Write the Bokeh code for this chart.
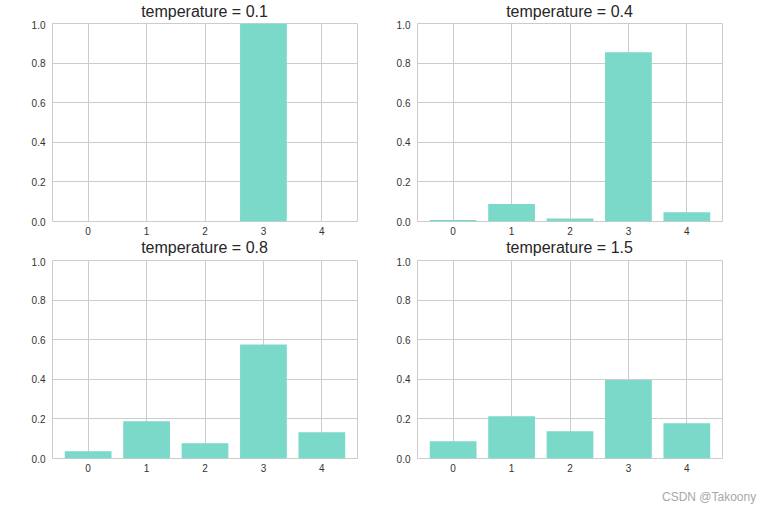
from bokeh.plotting import figure
from bokeh.layouts import column, row
from bokeh.models import Div, Spacer, FixedTicker, CustomJSTickFormatter
from bokeh.embed import file_html
from bokeh.resources import INLINE

categories = [0, 1, 2, 3, 4]
temperatures = ["0.1", "0.4", "0.8", "1.5"]
probs_t01 = [0.0, 0.0, 0.0, 1.0, 0.0]
probs_t04 = [0.007, 0.088, 0.015, 0.855, 0.047]
probs_t08 = [0.037, 0.188, 0.077, 0.576, 0.133]
probs_t15 = [0.087, 0.213, 0.138, 0.397, 0.178]
y_ticks = [0.0, 0.2, 0.4, 0.6, 0.8, 1.0]
watermark = "CSDN @Takoony"

BAR = "#7ad9c8"
GRID = "#cccccc"
FONT = "Liberation Sans"
FRAME_W = 305
FRAME_H = 198


def make_fig(vals, bl, br, bt, bb):
    p = figure(width=bl + FRAME_W + br, height=bt + FRAME_H + bb,
               output_backend="svg", toolbar_location=None,
               x_range=(-0.61, 4.61), y_range=(0, 1.0),
               min_border_left=bl, min_border_right=br, min_border_top=bt, min_border_bottom=bb)
    p.vbar(x=categories, top=vals, width=0.8, color=BAR, line_color=None)
    p.xaxis.ticker = FixedTicker(ticks=categories)
    p.yaxis.ticker = FixedTicker(ticks=y_ticks)
    p.yaxis.formatter = CustomJSTickFormatter(code="return tick.toFixed(1);")
    for ax in (p.xaxis, p.yaxis):
        ax.axis_line_color = None
        ax.major_tick_line_color = None
        ax.minor_tick_line_color = None
        ax.major_tick_out = 0
        ax.major_tick_in = 0
        ax.major_label_text_font = FONT
        ax.major_label_text_font_size = "10px"
        ax.major_label_text_color = "#333333"
    p.xaxis.major_label_standoff = 5
    p.yaxis.major_label_standoff = 7
    p.xgrid.grid_line_color = GRID
    p.ygrid.grid_line_color = GRID
    p.xgrid.grid_line_width = 1
    p.ygrid.grid_line_width = 1
    p.outline_line_color = GRID
    p.outline_line_width = 1
    p.background_fill_color = "white"
    p.border_fill_color = "white"
    return p


def make_title(temp, bl, br, h, lh):
    return Div(text=f"temperature = {temp}", width=FRAME_W, height=h,
               margin=(0, br, 0, bl),
               styles={"font-family": FONT, "font-size": "16px", "color": "#262626",
                       "text-align": "center", "line-height": f"{lh}px",
                       "white-space": "nowrap"})


f1 = make_fig(probs_t01, 52, 21, 3, 18)
f2 = make_fig(probs_t04, 39, 36, 3, 18)
f3 = make_fig(probs_t08, 52, 21, 3, 18)
f4 = make_fig(probs_t15, 39, 36, 3, 18)

t1 = make_title(temperatures[0], 52, 21, 20, 23)
t2 = make_title(temperatures[1], 39, 36, 20, 23)
t3 = make_title(temperatures[2], 52, 21, 18, 18)
t4 = make_title(temperatures[3], 39, 36, 18, 18)

wm = Div(text=watermark, width=100, height=34, margin=0,
         styles={"font-family": FONT, "font-size": "12px", "color": "#a8a8a8",
                 "line-height": "42px", "white-space": "nowrap"})

layout = column(
    row(column(t1, f1, spacing=0), column(t2, f2, spacing=0), spacing=0),
    row(column(t3, f3, spacing=0), column(t4, f4, spacing=0), spacing=0),
    row(Spacer(width=662, height=34), wm, spacing=0),
    spacing=0)

open("out.html", "w").write(file_html(layout, INLINE))
